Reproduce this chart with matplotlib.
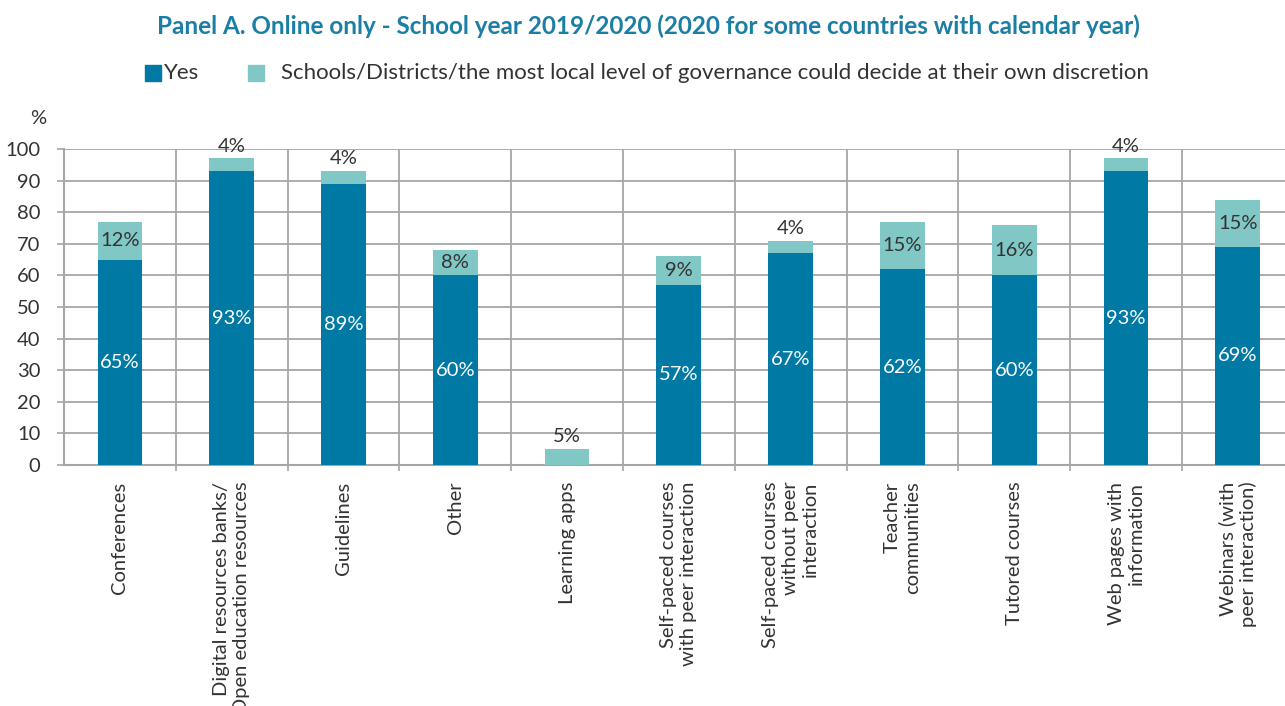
import numpy as np
import matplotlib.pyplot as plt

# data
categories = ["Conferences", "Digital resources banks/\nOpen education resources", "Guidelines",
              "Other", "Learning apps", "Self-paced courses\nwith peer interaction",
              "Self-paced courses\nwithout peer\ninteraction", "Teacher\ncommunities",
              "Tutored courses", "Web pages with\ninformation", "Webinars (with\npeer interaction)"]
yes_vals = [65, 93, 89, 60, 0, 57, 67, 62, 60, 93, 69]
local_vals = [12, 4, 4, 8, 5, 9, 4, 15, 16, 4, 15]

title = "Panel A. Online only - School year 2019/2020 (2020 for some countries with calendar year)"
label_yes = "Yes"
label_local = "Schools/Districts/the most local level of governance could decide at their own discretion"

c_yes = "#0079a5"
c_local = "#80c7c6"
c_text = "#333333"
c_grid = "#a6a6a6"

plt.rcParams['font.family'] = ['Lato', 'DejaVu Sans']

fig = plt.figure(figsize=(12.85, 7.06), dpi=100)
W, H = 1285, 706
left = 64 / W
right_px = 1293.7
bottom = (H - 465) / H
top = (H - 149) / H
ax = fig.add_axes([left, bottom, (right_px - 64) / W, top - bottom])

x = np.arange(len(categories))
ax.bar(x, yes_vals, width=0.4, color=c_yes, zorder=3)
ax.bar(x, local_vals, width=0.4, bottom=yes_vals, color=c_local, zorder=3)

for i in range(len(x)):
    y1 = yes_vals[i]
    y2 = local_vals[i]
    if y1 > 0:
        ax.text(x[i], y1 / 2, f"{y1}%", ha='center', va='center', color='white', fontsize=14.5, zorder=4)
    if y2 >= 8:
        ax.text(x[i], y1 + y2 / 2, f"{y2}%", ha='center', va='center', color=c_text, fontsize=14.5, zorder=4)
    else:
        ax.text(x[i], y1 + y2 + 1.2, f"{y2}%", ha='center', va='bottom', color=c_text, fontsize=14.5, zorder=4)

ax.set_xlim(-0.5, len(categories) - 0.5)
ax.set_ylim(0, 100)
ax.set_yticks(np.arange(0, 101, 10))
ax.set_xticks(x)
ax.set_xticklabels(categories, rotation=90, ma='right', fontsize=14.5, color=c_text)
ax.set_xticks(np.arange(0.5, len(categories) - 0.5, 1), minor=True)
ax.tick_params(axis='x', which='major', length=0, pad=12)
ax.tick_params(axis='x', which='minor', length=4, color=c_grid, width=1.2)
ax.tick_params(axis='y', labelsize=14.5, labelcolor=c_text, length=5, color=c_grid, width=1.2, pad=12)
ax.grid(True, axis='y', color=c_grid, linewidth=1.3, zorder=0)
ax.grid(True, axis='x', which='minor', color=c_grid, linewidth=1.3, zorder=0)
for s in ['top', 'right']:
    ax.spines[s].set_visible(False)
for s in ['left', 'bottom']:
    ax.spines[s].set_color(c_grid)
    ax.spines[s].set_linewidth(1.5)

fig.text(38 / W, (H - 118) / H, "%", ha='center', va='center', fontsize=14.5, color=c_text)
fig.text(648 / W, (H - 26) / H, title, ha='center', va='center', fontsize=17.5,
         fontweight='bold', color="#1b7ea4")

# legend drawn by hand to match the spacing
fig.patches.append(plt.Rectangle((145 / W, (H - 81) / H), 16 / W, 16 / H, transform=fig.transFigure,
                                 color=c_yes, figure=fig))
fig.text(164 / W, (H - 73) / H, label_yes, ha='left', va='center', fontsize=16, color=c_text)
fig.patches.append(plt.Rectangle((248 / W, (H - 81) / H), 16 / W, 16 / H, transform=fig.transFigure,
                                 color=c_local, figure=fig))
fig.text(281 / W, (H - 73) / H, label_local, ha='left', va='center', fontsize=16, color=c_text)

fig.savefig("out.png", dpi=100)
